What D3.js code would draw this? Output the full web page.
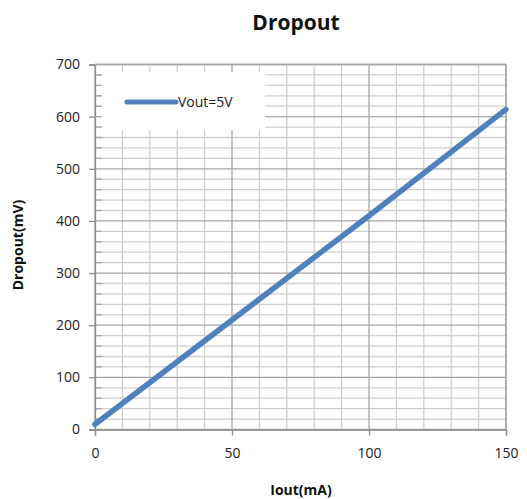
<!DOCTYPE html>
<html>
<head>
<meta charset="utf-8">
<script src="https://cdn.jsdelivr.net/npm/d3@7"></script>
<style>
  body { margin: 0; background: #fff; }
  text { font-family: "Open Sans", "Liberation Sans", sans-serif; }
  .tick text { font-size: 14px; fill: #222; }
</style>
</head>
<body>
<div class="container"></div>
<script>
// data
let iout = [0, 50, 100, 150];
let dropout = [10, 210, 410, 614];
let seriesName = "Vout=5V";
let xTicks = [0, 50, 100, 150];
let yTicks = [0, 100, 200, 300, 400, 500, 600, 700];

let margin = {top: 64.5, right: 21, bottom: 69.5, left: 95},
  width = 527 - margin.left - margin.right,
  height = 499 - margin.top - margin.bottom;

let x = d3.scaleLinear().domain([0, 150]).range([0, width]);
let y = d3.scaleLinear().domain([0, 700]).range([height, 0]);

let svg = d3.select(".container").append("svg")
    .attr("width", 527)
    .attr("height", 499)
  .append("g")
    .attr("transform", "translate(" + margin.left + "," + margin.top + ")");

// minor grid
svg.append("g")
  .selectAll("line")
  .data(d3.range(0, 151, 10).filter(d => d % 50))
  .enter().append("line")
    .attr("x1", d => x(d)).attr("x2", d => x(d))
    .attr("y1", 0).attr("y2", height)
    .style("stroke", "#cfcfcf").style("stroke-width", 1.3);
svg.append("g")
  .selectAll("line")
  .data(d3.range(0, 701, 20).filter(d => d % 100))
  .enter().append("line")
    .attr("x1", 0).attr("x2", width)
    .attr("y1", d => y(d)).attr("y2", d => y(d))
    .style("stroke", "#cfcfcf").style("stroke-width", 1.3);

// major grid
svg.append("g")
  .selectAll("line")
  .data(xTicks)
  .enter().append("line")
    .attr("x1", d => x(d)).attr("x2", d => x(d))
    .attr("y1", 0).attr("y2", height)
    .style("stroke", "#a6a6a6").style("stroke-width", 1.3);
svg.append("g")
  .selectAll("line")
  .data(yTicks)
  .enter().append("line")
    .attr("x1", 0).attr("x2", width)
    .attr("y1", d => y(d)).attr("y2", d => y(d))
    .style("stroke", "#a6a6a6").style("stroke-width", 1.3);

// legend box covers the grid
let leg = svg.append("g").attr("transform", "translate(7,7.5)");
leg.append("rect")
  .attr("width", 163).attr("height", 58)
  .style("fill", "#fff");
// minor inside ticks on y axis (visible over the legend box)
svg.append("g")
  .selectAll("line")
  .data(d3.range(0, 701, 20).filter(d => d % 100))
  .enter().append("line")
    .attr("x1", 0).attr("x2", 7)
    .attr("y1", d => y(d)).attr("y2", d => y(d))
    .style("stroke", "#a6a6a6").style("stroke-width", 1.3);

leg.append("line")
  .attr("x1", 25).attr("x2", 74)
  .attr("y1", 30).attr("y2", 30)
  .style("stroke", "#4f81bd").style("stroke-width", 5)
  .style("stroke-linecap", "round");
leg.append("text")
  .attr("x", 76).attr("y", 35)
  .style("font-size", "14px").style("fill", "#222")
  .text(seriesName);

// axes
let xAxis = svg.append("g")
  .attr("transform", "translate(0," + height + ")")
  .call(d3.axisBottom(x).tickValues(xTicks).tickSize(6).tickPadding(13));
let yAxis = svg.append("g")
  .call(d3.axisLeft(y).tickValues(yTicks).tickSize(6).tickPadding(9));
[xAxis, yAxis].forEach(a => {
  a.select(".domain").style("stroke", "#8c8c8c").style("stroke-width", 1.3);
  a.selectAll(".tick line").style("stroke", "#8c8c8c").style("stroke-width", 1.3);
});

// plot border right/top
svg.append("line").attr("x1", 0).attr("x2", width).attr("y1", 0).attr("y2", 0)
  .style("stroke", "#a6a6a6").style("stroke-width", 1.3);
svg.append("line").attr("x1", width).attr("x2", width).attr("y1", 0).attr("y2", height)
  .style("stroke", "#a6a6a6").style("stroke-width", 1.3);

// series
let line = d3.line().x((d, i) => x(iout[i])).y(d => y(d));
svg.append("path")
  .datum(dropout)
  .attr("d", line)
  .style("fill", "none")
  .style("stroke", "#4f81bd")
  .style("stroke-width", 5.5)
  .style("stroke-linecap", "round");

// titles
svg.append("text")
  .text("Dropout")
  .attr("text-anchor", "middle")
  .attr("x", 296 - margin.left).attr("y", 30 - margin.top)
  .style("font-size", "21px").style("font-weight", "bold").style("fill", "#111");
svg.append("text")
  .text("Iout(mA)")
  .attr("text-anchor", "middle")
  .attr("x", 301 - margin.left).attr("y", 495 - margin.top)
  .style("font-size", "14px").style("font-weight", "bold").style("fill", "#111");
svg.append("text")
  .text("Dropout(mV)")
  .attr("text-anchor", "middle")
  .attr("transform", "translate(" + (23 - margin.left) + "," + (245 - margin.top) + ") rotate(-90)")
  .style("font-size", "14px").style("font-weight", "bold").style("fill", "#111");
</script>
</body>
</html>
